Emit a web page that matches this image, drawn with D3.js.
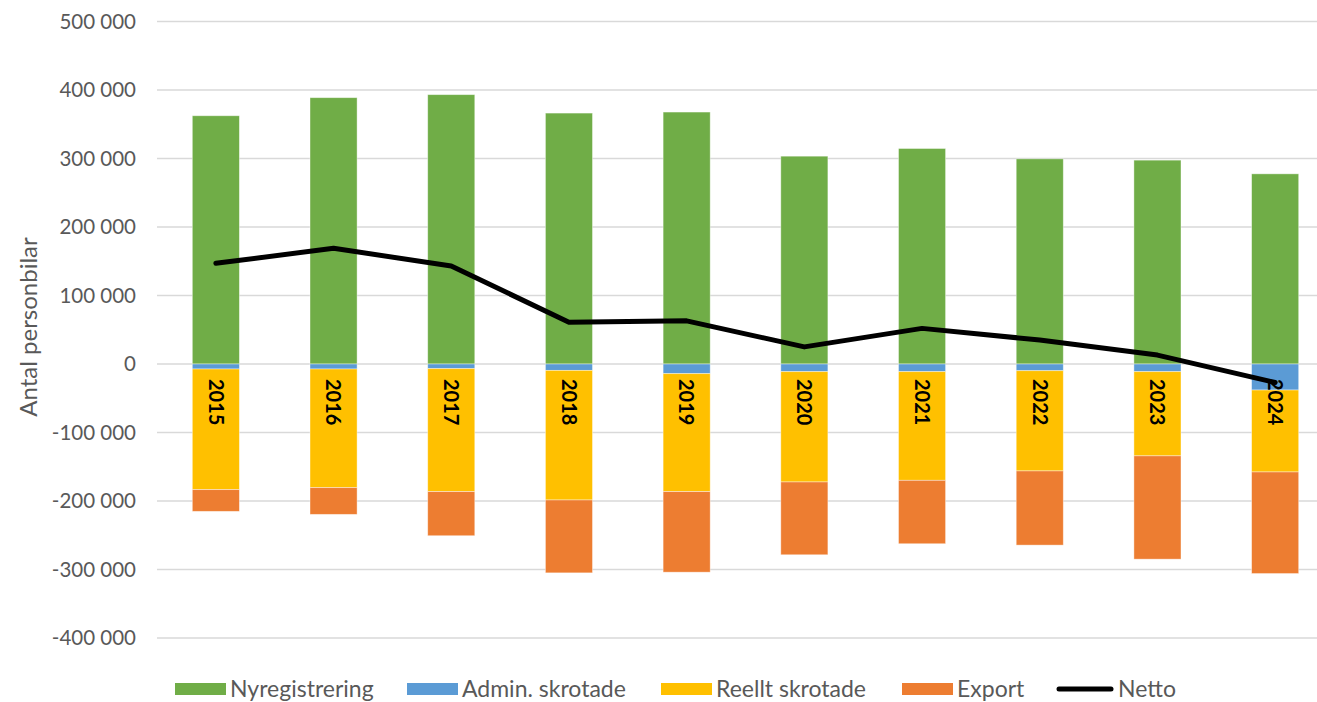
<!DOCTYPE html>
<html><head><meta charset="utf-8">
<script src="https://cdn.jsdelivr.net/npm/d3@7"></script>
<style>body{margin:0;background:#fff}svg{display:block}</style>
</head><body>
<svg id="c" width="1317" height="702"></svg>
<script>
const years = ["2015","2016","2017","2018","2019","2020","2021","2022","2023","2024"];
const nyregistrering = [362400,388800,393200,366300,367800,303400,314600,299500,297600,277600];
const adminSkrotade = [-7300,-7300,-6800,-9300,-14100,-11200,-11200,-9800,-11200,-38000];
const reelltSkrotade = [-176100,-173200,-179500,-189200,-172200,-161000,-158600,-146300,-122900,-119600];
const exportVals = [-31700,-39000,-64400,-106400,-117600,-106300,-92600,-108300,-150800,-148300];
const netto = [147000,169000,143000,61000,63000,25000,52000,35000,13000,-27000];
const yTicks = [-400000,-300000,-200000,-100000,0,100000,200000,300000,400000,500000];
const seriesNames = ["Nyregistrering","Admin. skrotade","Reellt skrotade","Export","Netto"];
const colors = ["#70AD47","#5B9BD5","#FFC000","#ED7D31","#000000"];

(function(){
const svg = d3.select("#c");
const W = 1317;
const pLeft = 157, pRight = 1334, pTop = 21.5, pBottom = 638;
const x = d3.scaleBand().domain(years).range([pLeft, pRight]).paddingInner(0.6).paddingOuter(0.3);
const y = d3.scaleLinear().domain([-400000, 500000]).range([pBottom, pTop]);

const font = "Lato, 'Open Sans', sans-serif";
const fmt = v => (v < 0 ? "-" : "") + d3.format(",")(Math.abs(v)).replace(/,/g, " ");

svg.append("g").selectAll("line").data(yTicks).join("line")
  .attr("x1", pLeft).attr("x2", W)
  .attr("y1", d => y(d)).attr("y2", d => y(d))
  .attr("stroke", "#d9d9d9").attr("stroke-width", 1.3);

const yAxis = d3.axisLeft(y).tickValues(yTicks).tickFormat(fmt).tickSize(0).tickPadding(0);
const ga = svg.append("g").attr("transform", `translate(136,0)`).call(yAxis);
ga.select(".domain").remove();
ga.selectAll("text").attr("font-family", font).attr("font-size", 20.5).attr("fill", "#595959");

svg.append("text").attr("transform", `translate(29,${327}) rotate(-90)`)
  .attr("text-anchor", "middle").attr("dy", "0.35em").attr("font-family", font)
  .attr("font-size", 24).attr("fill", "#595959").text("Antal personbilar");

const stacks = [nyregistrering, adminSkrotade, reelltSkrotade, exportVals];
const rows = years.map((yr, i) => {
  let pos = 0, neg = 0;
  return stacks.map((arr, k) => {
    const v = arr[i];
    let y0, y1;
    if (v >= 0) { y0 = pos; y1 = pos + v; pos = y1; } else { y0 = neg; y1 = neg + v; neg = y1; }
    return {yr, k, y0, y1};
  });
}).flat();
svg.append("g").selectAll("rect").data(rows).join("rect")
  .attr("x", d => x(d.yr)).attr("width", x.bandwidth())
  .attr("y", d => y(Math.max(d.y0, d.y1)))
  .attr("height", d => Math.abs(y(d.y0) - y(d.y1)))
  .attr("fill", d => colors[d.k])
  .attr("stroke", "#ffffff").attr("stroke-opacity", 0.5).attr("stroke-width", 0.8);

svg.append("g").selectAll("text").data(years).join("text")
  .attr("transform", d => `translate(${x(d) + x.bandwidth()/2},379) rotate(90)`)
  .attr("dy", "0.36em").attr("font-family", font)
  .attr("font-weight", "bold").attr("font-size", 20).attr("fill", "#000").text(d => d);

const line = d3.line().x((d, i) => x(years[i]) + x.bandwidth()/2).y(d => y(d));
svg.append("path").datum(netto).attr("d", line).attr("fill", "none")
  .attr("stroke", "#000").attr("stroke-width", 5).attr("stroke-linejoin", "round").attr("stroke-linecap", "round");

const legX = [175, 407, 661, 902, 1057];
const lg = svg.append("g").selectAll("g").data(seriesNames).join("g")
  .attr("transform", (d, i) => `translate(${legX[i]},689)`);
lg.each(function(d, i) {
  const g = d3.select(this);
  if (i < 4) g.append("rect").attr("x", 0).attr("y", -6).attr("width", 51).attr("height", 12).attr("fill", colors[i]);
  else g.append("line").attr("x1", 2).attr("x2", 54).attr("y1", 0).attr("y2", 0)
        .attr("stroke", "#000").attr("stroke-width", 5).attr("stroke-linecap", "round");
  g.append("text").attr("x", i < 4 ? 55 : 61).attr("dy", "0.35em")
    .attr("font-family", font)
    .attr("font-size", 23).attr("fill", "#595959").text(d);
});
})();
</script>
</body></html>
